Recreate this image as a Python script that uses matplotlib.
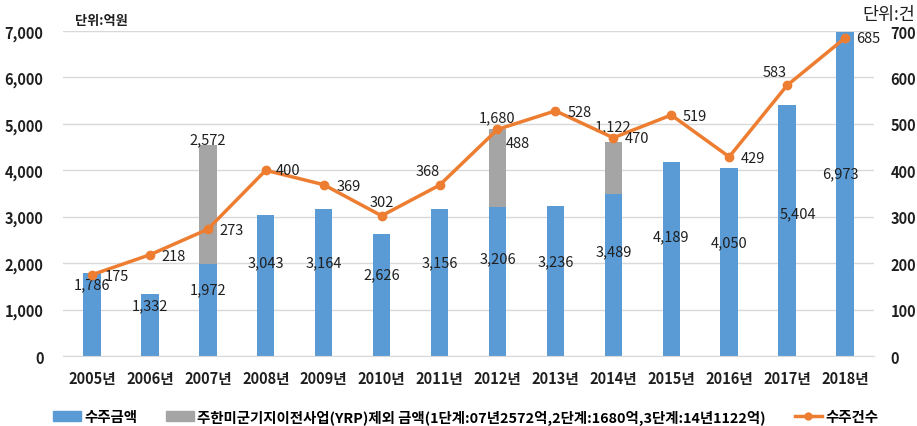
import matplotlib
matplotlib.use('Agg')
import matplotlib.pyplot as plt
from matplotlib.patches import Patch
from matplotlib.lines import Line2D
from matplotlib.ticker import FuncFormatter, MultipleLocator
import numpy as np

plt.rcParams['font.family'] = ['Noto Sans CJK KR', 'DejaVu Sans']

# ---- data ----
years = ['2005년', '2006년', '2007년', '2008년', '2009년', '2010년', '2011년',
         '2012년', '2013년', '2014년', '2015년', '2016년', '2017년', '2018년']
order_amount = [1786, 1332, 1972, 3043, 3164, 2626, 3156, 3206, 3236, 3489, 4189, 4050, 5404, 6973]
yrp_amount = [0, 0, 2572, 0, 0, 0, 0, 1680, 0, 1122, 0, 0, 0, 0]
order_count = [175, 218, 273, 400, 369, 302, 368, 488, 528, 470, 519, 429, 583, 685]

# ---- layout (label placement, not data) ----
amt_label_y = [1551, 1098, 1443, 2025, 2025, 1766, 2025, 2111, 2046, 2262, 2585, 2455, 3080, 3942]
amt_label_dx = [0, 0, 0, 0, 0, 0, 0, 0, 0, 0, 0, 0, 11, -5]
yrp_label_y = {2: 4674, 7: 5148, 9: 4954}
cnt_offsets = [(25, -1), (24, -1), (24, -1), (22, 0), (25, -1), (0, 14), (-12, 14),
               (20, -14), (24, -1), (24, 0), (24, -1), (24, -1), (-12, 13), (23, 0)]

BLUE = '#5B9BD5'
GRAY = '#A5A5A5'
ORANGE = '#ED7D31'
GRID = '#D9D9D9'
TXT = '#1F1F1F'

W, H = 917, 427
fig = plt.figure(figsize=(W / 100, H / 100), dpi=100)
ax = fig.add_axes([63 / W, 1 - 357 / H, (874 - 63) / W, 325 / H])
x = np.arange(len(years))

ax.bar(x, order_amount, width=0.3, color=BLUE, zorder=2)
ax.bar(x, yrp_amount, width=0.3, bottom=order_amount, color=GRAY, zorder=2)

ax.set_ylim(0, 7000)
ax.set_xlim(-0.5, len(years) - 0.5)
ax.yaxis.set_major_locator(MultipleLocator(1000))
ax.yaxis.set_major_formatter(FuncFormatter(lambda v, p: f'{int(v):,}'))
ax.grid(axis='y', color=GRID, linewidth=1, zorder=0)
ax.set_axisbelow(True)
for s in ['left', 'right', 'top']:
    ax.spines[s].set_visible(False)
ax.spines['bottom'].set_color(GRID)
ax.tick_params(axis='both', length=0)
ax.tick_params(axis='y', pad=14, labelsize=10.5, labelcolor=TXT)
ax.tick_params(axis='x', pad=10, labelsize=10.5, labelcolor=TXT)
ax.set_xticks(x)
ax.set_xticklabels(years, fontweight='bold')
for lbl in ax.get_yticklabels():
    lbl.set_fontweight('bold')

for i, v in enumerate(order_amount):
    ax.annotate(f'{v:,}', (x[i], amt_label_y[i]), xytext=(amt_label_dx[i], 0),
                textcoords='offset pixels', ha='center', va='center',
                fontsize=10.5, color=TXT, zorder=5)
for i, v in enumerate(yrp_amount):
    if v:
        ax.text(x[i], yrp_label_y[i], f'{v:,}', ha='center', va='center',
                fontsize=10.5, color=TXT, zorder=5)

ax2 = ax.twinx()
ax2.set_ylim(0, 700)
ax2.yaxis.set_major_locator(MultipleLocator(100))
ax2.plot(x, order_count, color=ORANGE, linewidth=2.5, marker='o', markersize=6, zorder=3)
for s in ['left', 'right', 'top', 'bottom']:
    ax2.spines[s].set_visible(False)
ax2.tick_params(axis='y', length=0, pad=12, labelsize=10.5, labelcolor=TXT)
for lbl in ax2.get_yticklabels():
    lbl.set_fontweight('bold')
for i, v in enumerate(order_count):
    ax2.annotate(f'{v}', (x[i], v), xytext=cnt_offsets[i], textcoords='offset pixels',
                 ha='center', va='center', fontsize=10.5, color=TXT)

fig.text(75 / W, 1 - 21 / H, '단위:억원', fontsize=9.5, fontweight='bold', color=TXT,
         ha='left', va='center')
fig.text(915 / W, 1 - 15 / H, '단위:건', fontsize=12.5, color=TXT, ha='right', va='center')

handles = [Patch(color=BLUE), Patch(color=GRAY),
           Line2D([], [], color=ORANGE, linewidth=2.5, marker='o', markersize=5)]
labels = ['수주금액', '주한미군기지이전사업(YRP)제외 금액(1단계:07년2572억,2단계:1680억,3단계:14년1122억)', '수주건수']
fig.legend(handles, labels, loc='center', bbox_to_anchor=(466 / W, 1 - 418 / H), ncol=3,
           frameon=False, handlelength=1.9, handletextpad=0.25,
           columnspacing=2.0, prop={'weight': 'bold', 'size': 10.4})

fig.savefig('out.png', dpi=100)
